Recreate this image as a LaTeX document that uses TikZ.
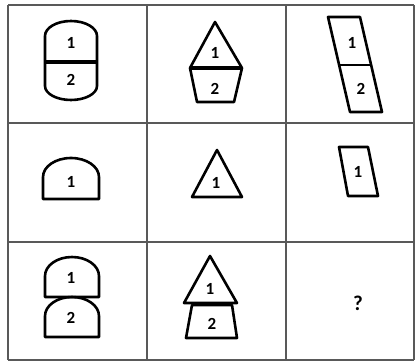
\documentclass[tikz,border=0pt]{standalone}
\usepackage{fontspec}
\setmainfont{Carlito}
\begin{document}
\begin{tikzpicture}[x=1pt, y=-1pt,
    shape line/.style={black, line width=2.6pt, line join=round},
    digit/.style={font=\fontsize{17}{17}\selectfont\bfseries, inner sep=0pt}]
    \useasboundingbox (0,0) rectangle (419,363);
    % Grid
    \foreach \x in {8,147,286,414} {
        \draw[black!65, line width=1.6pt] (\x,5) -- (\x,360);
    }
    \foreach \y in {5,123,242,360} {
        \draw[black!65, line width=1.6pt] (8,\y) -- (414,\y);
    }
    % Row 1: capsule, triangle on trapezoid, slanted bar
    \draw[shape line] (45,62) -- (45,36) arc[start angle=180, end angle=360, x radius=26, y radius=15]
        -- (97,86) arc[start angle=0, end angle=180, x radius=26, y radius=14] -- cycle;
    \draw[shape line, line width=3.4pt] (45,62) -- (97,62);
    \node[digit] (capA) at (71,43) {1};
    \node[digit] (capB) at (71,80) {2};
    \draw[shape line] (215,22) -- (242,68) -- (190,68) -- cycle;
    \draw[shape line] (190,68) -- (197,102) -- (234,102) -- (242,68);
    \draw[shape line, line width=3.4pt] (190,68) -- (242,68);
    \node[digit] (triA) at (215,53) {1};
    \node[digit] (triB) at (215,89) {2};
    \draw[shape line] (328,17) -- (360,17) -- (382,112) -- (350,112) -- cycle;
    \draw[shape line] (339,65) -- (371,65);
    \node[digit] (barA) at (352,43) {1};
    \node[digit] (barB) at (361,89) {2};
    % Row 2: single pieces
    \draw[shape line] (43,199) -- (43,177) arc[start angle=180, end angle=360, x radius=28, y radius=19]
        -- (99,199) -- cycle;
    \node[digit] (domeC) at (71,182) {1};
    \draw[shape line] (217,150) -- (242,197) -- (192,197) -- cycle;
    \node[digit] (triC) at (216,183) {1};
    \draw[shape line] (339,147) -- (368,147) -- (378,196) -- (348,196) -- cycle;
    \node[digit] (barC) at (358,172) {1};
    % Row 3: stacked pieces
    \foreach \top/\bot in {257/297, 298/337} {
        \draw[shape line] (45,\bot) -- (45,\bot-21) arc[start angle=180, end angle=360, x radius=27, y radius=19]
            -- (99,\bot) -- cycle;
    }
    \node[digit] (domeD) at (71,278) {1};
    \node[digit] (domeE) at (71,318) {2};
    \draw[shape line] (210,256) -- (237,303) -- (184,303) -- cycle;
    \draw[shape line] (192,305) -- (232,305) -- (237,338) -- (186,338) -- cycle;
    \node[digit] (triD) at (210,289) {1};
    \node[digit] (triE) at (212,324) {2};
    \node[font=\fontsize{21}{21}\selectfont\bfseries, inner sep=0pt] (ask) at (358,303) {?};
\end{tikzpicture}
\end{document}
